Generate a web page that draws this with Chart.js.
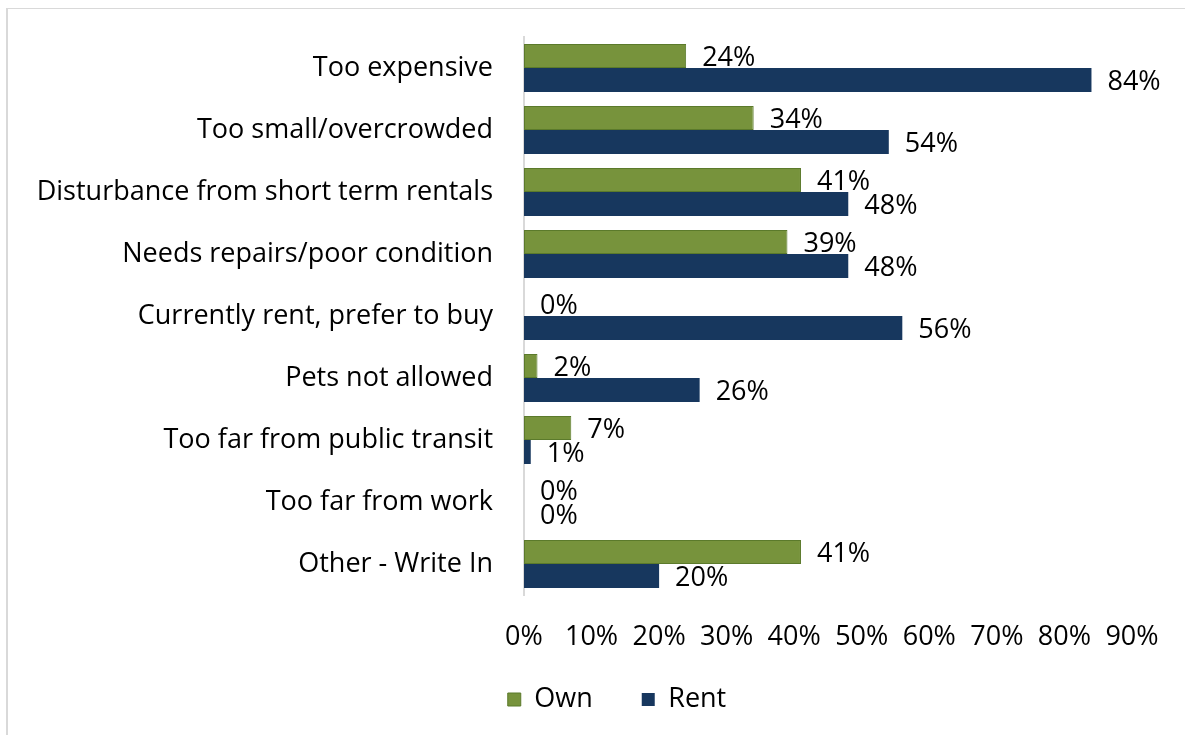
<!DOCTYPE html>
<html>
<head>
<meta charset="utf-8">
<script src="https://cdn.jsdelivr.net/npm/chart.js@4.4.1/dist/chart.umd.min.js"></script>
<style>
  html, body { margin: 0; padding: 0; background: #fff; overflow: hidden; }
  #frame { position: absolute; left: 6px; top: 8px; width: 1300px; height: 800px; border: 1px solid #d9d9d9; border-width: 1px 0 0 2px; }
  #wrap { position: absolute; left: 0; top: 0; width: 1185px; height: 735px; }
</style>
</head>
<body>
<div id="frame"></div>
<div id="wrap"><canvas id="myChart"></canvas></div>
<script>
// ============  data ============ //
const categories = [
    'Too expensive',
    'Too small/overcrowded',
    'Disturbance from short term rentals',
    'Needs repairs/poor condition',
    'Currently rent, prefer to buy',
    'Pets not allowed',
    'Too far from public transit',
    'Too far from work',
    'Other - Write In'
];
const ownValues = [24, 34, 41, 39, 0, 2, 7, 0, 41];
const rentValues = [84, 54, 48, 48, 56, 26, 1, 0, 20];
const tickLabels = ['0%', '10%', '20%', '30%', '40%', '50%', '60%', '70%', '80%', '90%'];

const FONT = '"Open Sans", "Noto Sans", sans-serif';
const FSIZE = 27;

// value labels at the end of each bar
const barLabels = {
    id: 'barLabels',
    afterDatasetsDraw(chart) {
        const ctx = chart.ctx;
        ctx.save();
        ctx.font = FSIZE + 'px ' + FONT;
        ctx.fillStyle = '#000';
        ctx.textAlign = 'left';
        ctx.textBaseline = 'middle';
        chart.data.datasets.forEach((ds, i) => {
            chart.getDatasetMeta(i).data.forEach((bar, j) => {
                ctx.fillText(ds.data[j] + '%', bar.x + 16, bar.y + 2);
            });
        });
        ctx.restore();
    }
};

// move the legend up under the axis labels and a bit to the right, like the original
const legendShift = {
    id: 'legendShift',
    afterLayout(chart) {
        const lg = chart.legend;
        lg.top = 637;
        lg.left += 51; lg.right += 51;
    }
};

const myChart = new Chart(document.getElementById('myChart').getContext('2d'), {
    type: 'bar',
    data: {
        labels: categories,
        datasets: [{
            label: 'Own',
            data: ownValues,
            backgroundColor: '#77933C',
            borderColor: '#5B7A2B',
            borderWidth: 1,
            borderSkipped: false
        }, {
            label: 'Rent',
            data: rentValues,
            backgroundColor: '#17375E',
            borderColor: '#17375E',
            borderWidth: 0
        }]
    },
    options: {
        indexAxis: 'y',
        responsive: true,
        maintainAspectRatio: false,
        animation: false,
        categoryPercentage: 0.774,
        barPercentage: 1,
        layout: { padding: { top: 37, right: 53, bottom: 0, left: 0 } },
        scales: {
            x: {
                min: 0,
                max: 90,
                grid: { display: false, drawTicks: false },
                border: { display: false },
                ticks: {
                    stepSize: 10,
                    padding: 26,
                    maxRotation: 0,
                    color: '#000',
                    font: { family: FONT, size: FSIZE },
                    callback: (v, i) => tickLabels[i]
                },
                afterFit(scale) {
                    scale.height = 80;
                    scale.paddingLeft = 0;
                    scale.paddingRight = 0;
                }
            },
            y: {
                grid: { display: false, drawTicks: false },
                border: { display: true, color: '#d9d9d9', width: 2 },
                ticks: {
                    padding: 31,
                    color: '#000',
                    font: { family: FONT, size: FSIZE }
                },
                afterFit(scale) {
                    scale.width = 524;
                    scale.paddingTop = 0;
                    scale.paddingBottom = 0;
                }
            }
        },
        plugins: {
            legend: {
                position: 'bottom',
                maxHeight: 60,
                labels: {
                    boxWidth: 13,
                    boxHeight: 13,
                    padding: 49,
                    color: '#000',
                    font: { family: FONT, size: FSIZE }
                }
            },
            tooltip: { enabled: false }
        }
    },
    plugins: [barLabels, legendShift]
});
</script>
</body>
</html>
